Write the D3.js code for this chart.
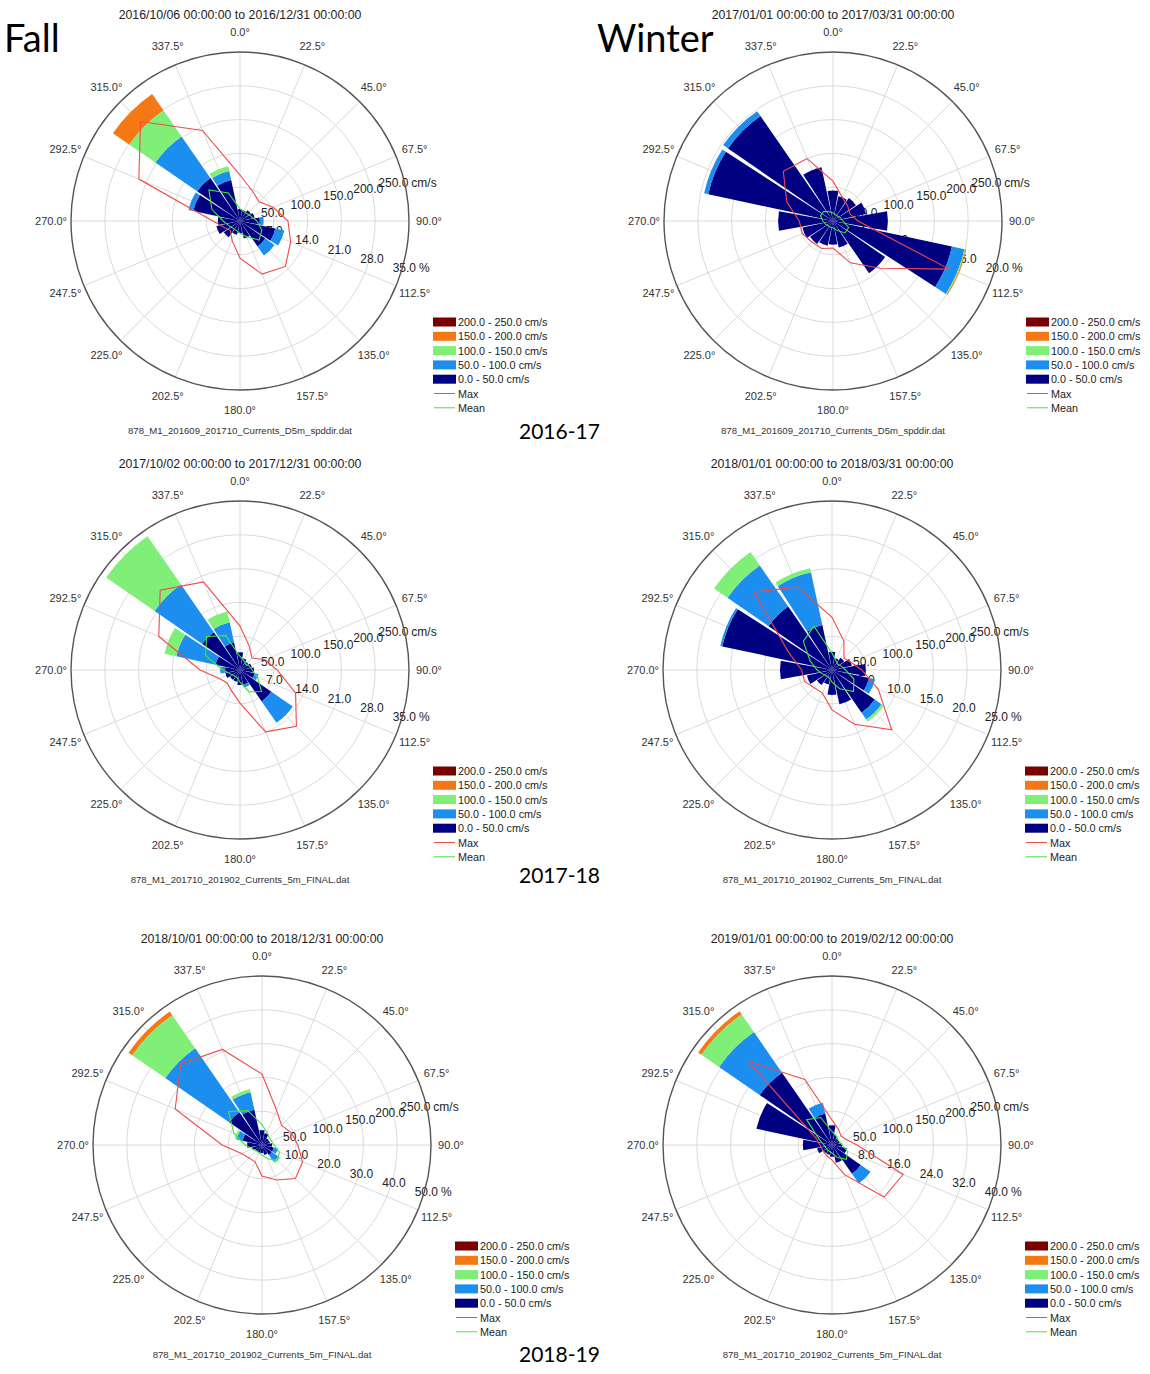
<!DOCTYPE html>
<html><head><meta charset="utf-8">
<script src="https://cdn.jsdelivr.net/npm/d3@7"></script>
<style>
body{margin:0;background:#fff}
svg{display:block}
</style>
</head><body>
<svg id="c" width="1150" height="1374"></svg>
<script>
// ---------- shared data ----------
const directions = [0,22.5,45,67.5,90,112.5,135,157.5,180,202.5,225,247.5,270,292.5,315,337.5];
const speedTicks = [50,100,150,200,250];
const speedClassLabels = ["0.0 - 50.0 cm/s","50.0 - 100.0 cm/s","100.0 - 150.0 cm/s","150.0 - 200.0 cm/s","200.0 - 250.0 cm/s"];
const lineLabels = ["Max","Mean"];
const seasonLabels = ["Fall","Winter"];
const yearLabels = ["2016-17","2017-18","2018-19"];

// ---------- Fall 2016 ----------
const fall16Title = "2016/10/06 00:00:00 to 2016/12/31 00:00:00";
const fall16File = "878_M1_201609_201710_Currents_D5m_spddir.dat";
const fall16PctTicks = [7,14,21,28,35];
const fall16S0 = [2.5,2.3,2.7,3.1,4.1,7.5,6.4,3.7,2.5,2.9,4.1,5.0,4.6,9.9,10.8,8.7];
const fall16S1 = [0,0,0,0,0.8,1.9,2.3,0,0,0,0,0,0,1.0,10.5,1.9];
const fall16S2 = [0,0,0,0,0,0,0,0,0,0,0,0,0,0,6.6,1.0];
const fall16S3 = [0,0,0,0,0,0,0,0,0,0,0,0,0,0,4.1,0];
const fall16S4 = [0,0,0,0,0,0,0,0,0,0,0,0,0,0,0,0];
const fall16Max = [68,48,40,53,71,81,95,85,55,31,20,25,40,162,208,145];
const fall16Mean = [18,15,15,18,25,35,40,25,18,15,15,18,25,45,65,45];

// ---------- Winter 2017 ----------
const win17Title = "2017/01/01 00:00:00 to 2017/03/31 00:00:00";
const win17File = "878_M1_201609_201710_Currents_D5m_spddir.dat";
const win17PctTicks = [4,8,12,16,20];
const win17S0 = [3.6,3.0,3.3,4.0,6.5,14.4,7.5,3.2,2.8,3.0,3.3,3.7,6.5,15.1,15.1,6.5];
const win17S1 = [0,0,0,0,0,1.5,0,0,0,0,0,0,0,0.5,0.7,0];
const win17S2 = [0,0,0,0,0,0.12,0,0,0,0,0,0,0,0,0,0];
const win17S3 = [0,0,0,0,0,0.12,0,0,0,0,0,0,0,0,0,0];
const win17S4 = [0,0,0,0,0,0,0,0,0,0,0,0,0,0,0,0];
const win17Max = [59,37,31,27,37,186,99,67,40,44,44,49,50,74,104,100];
const win17Mean = [12,10,10,12,15,25,25,15,10,10,10,12,15,20,20,15];

// ---------- Fall 2017 ----------
const fall17Title = "2017/10/02 00:00:00 to 2017/12/31 00:00:00";
const fall17File = "878_M1_201710_201902_Currents_5m_FINAL.dat";
const fall17PctTicks = [7,14,21,28,35];
const fall17S0 = [3.7,2.5,2.1,2.5,2.9,3.1,7.9,3.1,3.1,2.5,2.5,3.1,3.1,5.2,9.5,5.8];
const fall17S1 = [0,0,0,0,0,0.8,5.4,0.6,0,0,0,0,1.0,8.3,12.0,4.3];
const fall17S2 = [0,0,0,0,0,0,0,0,0,0,0,0,0,2.5,12.2,2.3];
const fall17S3 = [0,0,0,0,0,0,0,0,0,0,0,0,0,0,0,0];
const fall17S4 = [0,0,0,0,0,0,0,0,0,0,0,0,0,0,0,0];
const fall17Max = [65,37,25,40,55,89,118,99,49,33,27,33,59,130,167,141];
const fall17Mean = [20,15,12,15,18,28,45,35,18,12,12,15,25,55,70,55];

// ---------- Winter 2018 ----------
const win18Title = "2018/01/01 00:00:00 to 2018/03/31 00:00:00";
const win18File = "878_M1_201710_201902_Currents_5m_FINAL.dat";
const win18PctTicks = [5,10,15,20,25];
const win18S0 = [2.7,1.8,2.2,3.0,5.0,5.6,7.7,5.2,3.7,2.2,2.7,3.8,7.7,16.6,11.4,6.8];
const win18S1 = [0,0,0,0,0,0.9,1.2,0,0,0,0,0,0,0.3,7.4,8.0];
const win18S2 = [0,0,0,0,0,0,0.4,0,0,0,0,0,0,0,2.4,0.6];
const win18S3 = [0,0,0,0,0,0,0,0,0,0,0,0,0,0,0,0];
const win18S4 = [0,0,0,0,0,0,0,0,0,0,0,0,0,0,0,0];
const win18Max = [78,46,25,30,44,74,125,87,59,37,37,44,45,70,163,133];
const win18Mean = [25,15,12,15,20,35,45,30,18,12,12,15,22,35,60,70];

// ---------- Fall 2018 ----------
const fall18Title = "2018/10/01 00:00:00 to 2018/12/31 00:00:00";
const fall18File = "878_M1_201710_201902_Currents_5m_FINAL.dat";
const fall18PctTicks = [10,20,30,40,50];
const fall18S0 = [4.4,3.6,2.4,2.4,3.0,3.6,3.6,3.0,2.4,2.4,2.4,3.0,4.4,5.9,11.8,10.7];
const fall18S1 = [0,0,0,0,0,1.2,2.4,0,0,0,0,0,0,1.8,23.0,5.3];
const fall18S2 = [0,0,0,0,0,0,0.6,0,0,0,0,0,0,0.6,11.9,0.9];
const fall18S3 = [0,0,0,0,0,0,0,0,0,0,0,0,0,0,1.3,0];
const fall18S4 = [0,0,0,0,0,0,0,0,0,0,0,0,0,0,0,0];
const fall18Max = [105,56,41,47,53,65,70,56,46,27,27,33,59,139,170,153];
const fall18Mean = [30,20,15,15,18,28,32,22,15,12,12,15,25,45,70,55];

// ---------- Winter 2019 ----------
const win19Title = "2019/01/01 00:00:00 to 2019/02/12 00:00:00";
const win19File = "878_M1_201710_201902_Currents_5m_FINAL.dat";
const win19PctTicks = [8,16,24,32,40];
const win19S0 = [4.7,2.4,1.9,1.9,2.4,3.6,8.3,4.3,2.8,2.4,2.4,3.6,6.9,18.3,20.8,7.6];
const win19S1 = [0,0,0,0,0,0,2.8,0,0,0,0,0,0,0,11.7,2.6];
const win19S2 = [0,0,0,0,0,0,0,0,0,0,0,0,0,0,5.1,0];
const win19S3 = [0,0,0,0,0,0,0,0,0,0,0,0,0,0,0.9,0];
const win19S4 = [0,0,0,0,0,0,0,0,0,0,0,0,0,0,0,0];
const win19Max = [37,25,19,22,37,114,109,47,22,18,16,16,18,25,175,105];
const win19Mean = [20,15,12,12,15,25,30,20,12,10,10,10,12,20,53,44];

// ---------- styles ----------
const classColors = ["#000082","#1c8ef0","#80ef78","#f57814","#7a0000"];
const maxColor = "#f04a4a", meanColor = "#3ee63e";
const R = 169;
const baseFont = "'Liberation Sans', Arial, sans-serif";
const bigFont = "Lato, 'Open Sans', sans-serif";

const plots = [
  {cx:240, cy:221, title:fall16Title, file:fall16File, ticks:fall16PctTicks, s:[fall16S0,fall16S1,fall16S2,fall16S3,fall16S4], max:fall16Max, mean:fall16Mean},
  {cx:833, cy:221, title:win17Title, file:win17File, ticks:win17PctTicks, s:[win17S0,win17S1,win17S2,win17S3,win17S4], max:win17Max, mean:win17Mean},
  {cx:240, cy:670, title:fall17Title, file:fall17File, ticks:fall17PctTicks, s:[fall17S0,fall17S1,fall17S2,fall17S3,fall17S4], max:fall17Max, mean:fall17Mean},
  {cx:832, cy:670, title:win18Title, file:win18File, ticks:win18PctTicks, s:[win18S0,win18S1,win18S2,win18S3,win18S4], max:win18Max, mean:win18Mean},
  {cx:262, cy:1145, title:fall18Title, file:fall18File, ticks:fall18PctTicks, s:[fall18S0,fall18S1,fall18S2,fall18S3,fall18S4], max:fall18Max, mean:fall18Mean},
  {cx:832, cy:1145, title:win19Title, file:win19File, ticks:win19PctTicks, s:[win19S0,win19S1,win19S2,win19S3,win19S4], max:win19Max, mean:win19Mean}
];

const svg = d3.select("#c").style("font-family", baseFont);
svg.append("rect").attr("width",1150).attr("height",1374).attr("fill","#fff");
const rad = d3.scaleLinear().domain([0,360]).range([0,2*Math.PI]);
const f1 = d3.format(".1f");
const halfBar = 10.35;

function polar(b, r){ const a = rad(b); return [r*Math.sin(a), -r*Math.cos(a)]; }

function drawRose(p){
  const g = svg.append("g").attr("transform",`translate(${p.cx},${p.cy})`);
  const rPct = d3.scaleLinear().domain([0, p.ticks[p.ticks.length-1]]).range([0,R]);
  const rSpd = d3.scaleLinear().domain([0, speedTicks[speedTicks.length-1]]).range([0,R]);

  // grid
  g.selectAll("line.spoke").data(directions).join("line")
    .attr("x1",0).attr("y1",0)
    .attr("x2",d=>polar(d,R)[0]).attr("y2",d=>polar(d,R)[1])
    .attr("stroke","#d6d6d6").attr("stroke-width",0.9);
  g.selectAll("circle.ring").data(p.ticks.slice(0,-1)).join("circle")
    .attr("r",d=>rPct(d)).attr("fill","none").attr("stroke","#d6d6d6").attr("stroke-width",0.9);

  // radial labels (under bars)
  const spdB = 76, pctB = 106;
  speedTicks.forEach((t,i)=>{
    const last = i===speedTicks.length-1;
    const rr = rSpd(t) - (last?11:(i===3?3:0));
    const [x,y] = polar(spdB, rr);
    const tx = g.append("text").attr("x",x).attr("y",y).attr("text-anchor","middle")
      .attr("dominant-baseline","central").attr("font-size",12).attr("fill","#222").text(f1(t));
    if(last){
      const w = tx.node().getComputedTextLength();
      g.append("text").attr("x",x+w/2+3).attr("y",y).attr("dominant-baseline","central")
        .attr("font-size",12).attr("fill","#222").text("cm/s");
    }
  });
  p.ticks.forEach((t,i)=>{
    const last = i===p.ticks.length-1;
    const [x,y] = polar(pctB, rPct(t)+2);
    const tx = g.append("text").attr("x",x).attr("y",y).attr("text-anchor","middle")
      .attr("dominant-baseline","central").attr("font-size",12).attr("fill","#222").text(f1(t));
    if(last){
      const w = tx.node().getComputedTextLength();
      g.append("text").attr("x",x+w/2+3).attr("y",y).attr("dominant-baseline","central")
        .attr("font-size",12).attr("fill","#222").text("%");
    }
  });

  // stacked bars
  const rows = directions.map((d,i)=>({dir:d, c0:p.s[0][i], c1:p.s[1][i], c2:p.s[2][i], c3:p.s[3][i], c4:p.s[4][i]}));
  const stack = d3.stack().keys(["c0","c1","c2","c3","c4"])(rows);
  const arc = d3.arc();
  stack.forEach((layer,li)=>{
    g.append("g").selectAll("path").data(layer.filter(d=>d[1]-d[0]>0)).join("path")
      .attr("d",d=>arc({innerRadius:rPct(d[0]), outerRadius:rPct(d[1]),
        startAngle:rad(d.data.dir-halfBar), endAngle:rad(d.data.dir+halfBar)}))
      .attr("fill",classColors[li]);
  });

  // max / mean polygons
  const line = d3.lineRadial().angle(d=>rad(d[0])).radius(d=>rSpd(d[1])).curve(d3.curveLinearClosed);
  g.append("path").attr("d",line(directions.map((d,i)=>[d,p.max[i]])))
    .attr("fill","none").attr("stroke",maxColor).attr("stroke-width",1.1);
  g.append("path").attr("d",line(directions.map((d,i)=>[d,p.mean[i]])))
    .attr("fill","none").attr("stroke",meanColor).attr("stroke-width",1.1);

  // outer circle
  g.append("circle").attr("r",R).attr("fill","none").attr("stroke","#555").attr("stroke-width",1.4);

  // angle labels
  g.selectAll("text.ang").data(directions).join("text")
    .attr("x",d=>polar(d,R+20)[0]).attr("y",d=>polar(d,R+20)[1])
    .attr("text-anchor","middle").attr("dominant-baseline","central")
    .attr("font-size",11).attr("fill","#333").text(d=>f1(d)+"°");

  // title & file
  g.append("text").attr("x",0).attr("y",-206).attr("text-anchor","middle").attr("dominant-baseline","central")
    .attr("font-size",12.3).attr("fill","#222").text(p.title);
  g.append("text").attr("x",0).attr("y",209).attr("text-anchor","middle").attr("dominant-baseline","central")
    .attr("font-size",9.6).attr("fill","#333").text(p.file);

  // legend
  const lg = g.append("g").attr("transform",`translate(193,101)`);
  const legendRows = speedClassLabels.map((l,i)=>({label:l, color:classColors[i]})).reverse();
  legendRows.forEach((r,i)=>{
    const y = i*14.3;
    lg.append("rect").attr("x",0).attr("y",y-4.5).attr("width",23).attr("height",9).attr("fill",r.color);
    lg.append("text").attr("x",25).attr("y",y).attr("dominant-baseline","central")
      .attr("font-size",10.8).attr("fill","#222").text(r.label);
  });
  lineLabels.forEach((l,i)=>{
    const y = (5+i)*14.3;
    lg.append("line").attr("x1",1).attr("x2",22).attr("y1",y).attr("y2",y)
      .attr("stroke",i===0?maxColor:meanColor).attr("stroke-width",1);
    lg.append("text").attr("x",25).attr("y",y).attr("dominant-baseline","central")
      .attr("font-size",10.8).attr("fill","#222").text(l);
  });
}

plots.forEach(drawRose);

// season and year annotations
svg.append("text").attr("x",4).attr("y",52).style("font-family",bigFont)
  .attr("font-size",38).attr("fill","#000").text(seasonLabels[0]);
svg.append("text").attr("x",597).attr("y",52).style("font-family",bigFont)
  .attr("font-size",38).attr("fill","#000").text(seasonLabels[1]);
const yearY = [439, 883, 1362];
yearLabels.forEach((t,i)=>{
  svg.append("text").attr("x",519).attr("y",yearY[i]).style("font-family",bigFont)
    .attr("font-size",21).attr("fill","#000").text(t);
});
</script>
</body></html>
